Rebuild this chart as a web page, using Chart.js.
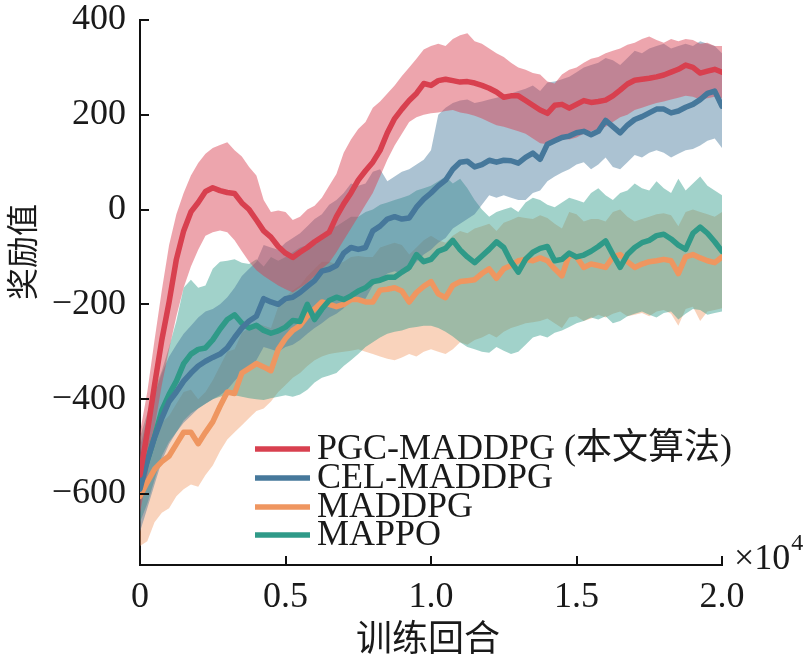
<!DOCTYPE html>
<html>
<head>
<meta charset="utf-8">
<script src="https://cdn.jsdelivr.net/npm/chart.js@4.4.1/dist/chart.umd.min.js"></script>
<style>
  html, body { margin: 0; padding: 0; background: #fff; }
  #wrap { width: 804px; height: 662px; }
</style>
</head>
<body>
<div id="wrap"><canvas id="chart" width="804" height="662"></canvas></div>
<script>
// training episodes (x 10^4)
const steps = [
  0, 0.025, 0.05, 0.075, 0.1, 0.125, 0.15, 0.175, 0.2, 0.225,
  0.25, 0.275, 0.3, 0.325, 0.35, 0.375, 0.4, 0.425, 0.45, 0.475,
  0.5, 0.525, 0.55, 0.575, 0.6, 0.625, 0.65, 0.675, 0.7, 0.725,
  0.75, 0.775, 0.8, 0.825, 0.85, 0.875, 0.9, 0.925, 0.95, 0.975,
  1, 1.025, 1.05, 1.075, 1.1, 1.125, 1.15, 1.175, 1.2, 1.225,
  1.25, 1.275, 1.3, 1.325, 1.35, 1.375, 1.4, 1.425, 1.45, 1.475,
  1.5, 1.525, 1.55, 1.575, 1.6, 1.625, 1.65, 1.675, 1.7, 1.725,
  1.75, 1.775, 1.8, 1.825, 1.85, 1.875, 1.9, 1.925, 1.95, 1.975,
  2
];

const pgcMean = [
  -560, -470, -370, -275, -195, -105, -45, -5, 15, 38,
  46, 40, 36, 34, 14, 0, -22, -45, -58, -78,
  -92, -101, -90, -80, -68, -58, -48, -15, 12, 35,
  62, 82, 100, 125, 162, 192, 212, 230, 245, 266,
  262, 272, 275, 272, 269, 270, 267, 262, 256, 248,
  237, 240, 240, 230, 220, 210, 203, 220, 222, 214,
  222, 230, 226, 228, 231, 240, 252, 265, 273, 275,
  277, 280, 284, 290, 296, 305, 300, 288, 292, 296,
  290
];
const pgcUpper = [
  -470, -385, -275, -170, -75, -10, 35, 72, 98, 118,
  130, 136, 142, 125, 112, 90, 72, 20, -5, -2,
  -5, -22, -15, 0, 8, 25, 50, 75, 120, 148,
  170, 185, 215, 228, 245, 262, 282, 300, 318, 338,
  345, 350, 345, 360, 368, 372, 355, 350, 340, 330,
  322, 310, 300, 295, 288, 285, 270, 266, 285, 295,
  300, 310, 318, 322, 330, 335, 340, 348, 352, 360,
  365, 358, 352, 360, 355, 360, 358, 350, 352, 345,
  345
];
const pgcLower = [
  -640, -560, -460, -370, -295, -225, -165, -120, -85, -55,
  -48, -44, -48, -65, -88, -110, -128, -140, -150, -160,
  -168, -175, -165, -155, -140, -125, -112, -90, -65, -40,
  -15, 10, 35, 70, 105, 135, 160, 185, 195, 200,
  203, 205, 208, 210, 205, 202, 198, 192, 185, 178,
  175, 170, 165, 160, 150, 140, 138, 145, 150, 148,
  152, 160, 165, 170, 175, 185, 195, 200, 210, 215,
  220, 225, 228, 232, 236, 240, 238, 232, 235, 238,
  235
];

const celMean = [
  -590, -530, -481, -440, -405, -385, -362, -345, -330, -320,
  -312, -305, -292, -270, -250, -235, -225, -188, -195, -200,
  -188, -185, -175, -162, -150, -130, -126, -118, -92, -80,
  -84, -80, -45, -35, -20, -15, -20, -18, 5, 22,
  35, 50, 62, 85, 100, 102, 90, 95, 104, 100,
  104, 103, 98, 110, 119, 106, 138, 145, 152, 155,
  162, 165, 158, 165, 188, 175, 162, 178, 190, 196,
  204, 212, 212, 204, 208, 216, 222, 232, 245, 250,
  218
];
const celUpper = [
  -500, -440, -390, -345, -310, -285, -262, -245, -228, -215,
  -210, -200, -185, -165, -140, -125, -110, -75, -80, -85,
  -70, -60, -50, -35, -20, -10, 10, 20, 35, 55,
  50, 55, 80, 85, 60, 70, 80, 85, 95, 105,
  125, 200, 215, 225, 230, 232, 225, 228, 232, 236,
  240, 245, 250, 255, 262, 250, 268, 270, 275, 280,
  290, 300, 305, 310, 320, 315, 305, 320, 335, 330,
  340, 345, 350, 340, 345, 350, 345, 355, 350, 345,
  330
];
const celLower = [
  -680, -630, -580, -530, -495, -470, -450, -435, -420, -410,
  -400, -392, -380, -362, -345, -330, -318, -290, -295, -300,
  -290, -285, -275, -262, -250, -240, -228, -220, -208, -190,
  -192, -188, -160, -150, -135, -130, -135, -130, -110, -95,
  -85, -70, -60, -40, -30, -20, -10, 10, 30, 25,
  30, 25, 20, 20, 35, 40, 60, 70, 78, 85,
  95, 100, 85, 95, 110, 90, 85, 100, 115, 110,
  120, 125, 120, 110, 118, 125, 128, 135, 145, 150,
  130
];

const mappoMean = [
  -575, -530, -480, -424, -390, -362, -325, -305, -295, -292,
  -275, -252, -232, -222, -240, -250, -244, -255, -261, -256,
  -248, -234, -236, -200, -232, -210, -192, -185, -190, -182,
  -172, -165, -152, -149, -143, -143, -132, -122, -95, -110,
  -105, -88, -82, -65, -85, -100, -112, -98, -84, -68,
  -80, -110, -132, -105, -90, -82, -78, -108, -105, -92,
  -100, -96, -88, -78, -66, -95, -122, -95, -80, -70,
  -65, -55, -52, -62, -75, -84, -50, -37, -50, -68,
  -88
];
const mappoUpper = [
  -480, -430, -380, -340, -290, -235, -165, -148, -165, -160,
  -125, -110, -108, -105, -112, -115, -105, -120, -100, -108,
  -100, -90, -80, -75, -65, -60, -40, -35, -25, -15,
  -15, -5, 0, 10, 15, 20, 25, 30, 40, 45,
  50, 60, 70, 55, 65, 45, 20, 0, -15, -5,
  0, 5, -5, 15, 25, 20, 10, 5, 15, 25,
  20, 15, 35, 45, 30, 20, 35, 40, 55, 45,
  40, 60, 45, 35, 65, 40, 55, 70, 50, 40,
  30
];
const mappoLower = [
  -660, -620, -570, -520, -490, -470, -445, -430, -420, -410,
  -400, -395, -390, -392, -395, -398, -400, -402, -398, -395,
  -392, -395, -390, -380, -365, -355, -350, -345, -330, -318,
  -305, -290, -280, -270, -262, -258, -255, -250, -248, -245,
  -245, -250, -258, -268, -280, -290, -295, -300, -302, -290,
  -298, -305, -300, -285, -270, -265, -270, -260, -255, -248,
  -240, -235, -228, -232, -225, -240, -235, -225, -220, -215,
  -222, -228, -218, -215, -232, -220, -210, -212, -222, -218,
  -215
];

const maddpgMean = [
  -605, -575, -548, -532, -520, -495, -470, -470, -494, -470,
  -448, -415, -385, -388, -345, -335, -325, -332, -340, -295,
  -272, -255, -245, -225, -210, -195, -200, -205, -200, -190,
  -190, -195, -195, -170, -168, -165, -172, -195, -175, -162,
  -152, -178, -186, -160, -152, -150, -148, -135, -125, -145,
  -125, -118, -108, -105, -108, -102, -108, -125, -140, -95,
  -100, -122, -115, -118, -122, -100, -95, -110, -122, -115,
  -110, -108, -105, -108, -135, -100, -95, -102, -108, -112,
  -100
];
const maddpgUpper = [
  -530, -495, -470, -450, -435, -410, -385, -380, -400, -385,
  -360, -330, -300, -295, -260, -250, -240, -245, -250, -205,
  -185, -170, -160, -140, -125, -110, -110, -115, -110, -100,
  -98, -100, -100, -80, -75, -70, -75, -95, -80, -65,
  -55, -65, -70, -55, -45, -50, -40, -35, -30, -45,
  -28, -22, -15, -18, -20, -12, -18, -30, -40, -5,
  -10, -25, -20, -20, -25, -5, 0, -15, -25, -20,
  -15, -10, -8, -12, -35, -5, 0, -5, -10, -15,
  -5
];
const maddpgLower = [
  -710, -700, -660, -640, -630, -605, -590, -580, -585, -560,
  -540, -510, -485, -470, -455, -440, -425, -420, -405, -385,
  -370, -355, -345, -330, -318, -310, -305, -302, -300, -298,
  -295, -300, -305, -310, -315, -318, -312, -305, -310, -300,
  -295, -300, -305, -295, -280, -285, -275, -270, -262, -270,
  -258, -250, -245, -240, -238, -235, -230, -240, -250, -228,
  -225, -235, -230, -222, -228, -220, -215, -225, -222, -218,
  -225, -215, -212, -220, -245, -210, -205, -235, -215, -212,
  -208
];

const seriesLabels = ['PGC-MADDPG (本文算法)', 'CEL-MADDPG', 'MADDPG', 'MAPPO'];
const xTicks = [0, 0.5, 1, 1.5, 2];
const xTickLabels = ['0', '0.5', '1.0', '1.5', '2.0'];
const yTicks = [-600, -400, -200, 0, 200, 400];

const colors = {
  pgc: '#d8404f', cel: '#46789b', maddpg: '#ef9660', mappo: '#2f9a88'
};
const bands = {
  pgc: 'rgba(217,64,80,0.47)',
  cel: 'rgba(69,120,155,0.45)',
  maddpg: 'rgba(240,150,96,0.42)',
  mappo: 'rgba(47,156,138,0.45)'
};

const serif = "'Liberation Serif', 'Times New Roman', 'Noto Sans CJK SC', serif";
const cjk = "'Noto Sans CJK SC', sans-serif";
const textColor = '#1a1a1a';

function pts(ys) {
  return steps.map((x, i) => ({ x: x, y: ys[i] }));
}
function lineSet(label, ys, color) {
  return { label: label, data: pts(ys), borderColor: color, borderWidth: 5.5,
    pointRadius: 0, fill: false, tension: 0, borderJoinStyle: 'round', borderCapStyle: 'round' };
}
function bandSet(ys, fill, bg) {
  return { label: '', data: pts(ys), borderColor: 'rgba(0,0,0,0)', borderWidth: 0,
    pointRadius: 0, fill: fill, backgroundColor: bg, tension: 0 };
}

// inward ticks, axis titles, legend and the x10^4 note
const decor = {
  id: 'decor',
  afterDraw(chart) {
    const ctx = chart.ctx;
    const xs = chart.scales.x, ys = chart.scales.y;
    const area = chart.chartArea;
    ctx.save();
    ctx.strokeStyle = '#111';
    ctx.lineWidth = 2;
    ctx.beginPath();
    yTicks.forEach(v => {
      const py = Math.round(ys.getPixelForValue(v));
      ctx.moveTo(area.left, py);
      ctx.lineTo(area.left + 9, py);
    });
    xTicks.forEach(v => {
      const px = Math.round(xs.getPixelForValue(v));
      ctx.moveTo(px, area.bottom);
      ctx.lineTo(px, area.bottom - 9);
    });
    ctx.stroke();

    ctx.fillStyle = textColor;
    // y title
    ctx.save();
    ctx.translate(22, 252);
    ctx.rotate(-Math.PI / 2);
    ctx.font = '32px ' + cjk;
    ctx.textAlign = 'center';
    ctx.textBaseline = 'middle';
    ctx.fillText('奖励值', 0, 0);
    ctx.restore();
    // x title
    ctx.font = '36px ' + cjk;
    ctx.textAlign = 'center';
    ctx.textBaseline = 'middle';
    ctx.fillText('训练回合', 428, 637);

    // x10^4
    ctx.textAlign = 'left';
    ctx.font = '36px ' + serif;
    ctx.fillText('×10', 734, 560);
    const w = ctx.measureText('×10').width;
    ctx.font = '24px ' + serif;
    ctx.fillText('4', 734 + w + 1, 544);

    // legend
    const lineColors = [colors.pgc, colors.cel, colors.maddpg, colors.mappo];
    const rowY = [449, 478, 507, 535];
    ctx.font = '36px ' + serif;
    ctx.textBaseline = 'middle';
    seriesLabels.forEach((lab, i) => {
      ctx.strokeStyle = lineColors[i];
      ctx.lineWidth = 5.5;
      ctx.beginPath();
      ctx.moveTo(255, rowY[i]);
      ctx.lineTo(310, rowY[i]);
      ctx.stroke();
      ctx.fillStyle = textColor;
      ctx.fillText(lab, 317, rowY[i] + 1);
    });
    ctx.restore();
  }
};

new Chart(document.getElementById('chart'), {
  type: 'line',
  data: {
    datasets: [
      lineSet(seriesLabels[0], pgcMean, colors.pgc),
      lineSet(seriesLabels[1], celMean, colors.cel),
      lineSet(seriesLabels[3], mappoMean, colors.mappo),
      lineSet(seriesLabels[2], maddpgMean, colors.maddpg),
      bandSet(pgcUpper, '+1', bands.pgc),
      bandSet(pgcLower, false, bands.pgc),
      bandSet(celUpper, '+1', bands.cel),
      bandSet(celLower, false, bands.cel),
      bandSet(mappoUpper, '+1', bands.mappo),
      bandSet(mappoLower, false, bands.mappo),
      bandSet(maddpgUpper, '+1', bands.maddpg),
      bandSet(maddpgLower, false, bands.maddpg)
    ]
  },
  options: {
    responsive: false,
    animation: false,
    layout: { padding: { top: 20, right: 82, left: 0, bottom: 0 } },
    plugins: {
      legend: { display: false },
      tooltip: { enabled: false }
    },
    scales: {
      x: {
        type: 'linear',
        min: 0,
        max: 2,
        afterFit: s => { s.height = 97; s.paddingLeft = 0; s.paddingRight = 0; },
        afterBuildTicks: s => { s.ticks = xTicks.map(v => ({ value: v })); },
        ticks: {
          callback: (v) => xTickLabels[xTicks.indexOf(v)],
          font: { family: serif, size: 36, lineHeight: 1 },
          color: textColor,
          padding: 7,
          maxRotation: 0,
          autoSkip: false
        },
        grid: { display: false },
        border: { display: true, color: '#111', width: 2 }
      },
      y: {
        type: 'linear',
        min: -750,
        max: 400,
        afterFit: s => { s.width = 140; s.paddingTop = 0; s.paddingBottom = 0; },
        afterBuildTicks: s => { s.ticks = yTicks.map(v => ({ value: v })); },
        ticks: {
          callback: (v) => String(v).replace('-', '\u2212'),
          font: { family: serif, size: 36, lineHeight: 1 },
          color: textColor,
          padding: 6,
          autoSkip: false
        },
        grid: { display: false },
        border: { display: true, color: '#111', width: 2 }
      }
    }
  },
  plugins: [decor]
});
</script>
</body>
</html>
